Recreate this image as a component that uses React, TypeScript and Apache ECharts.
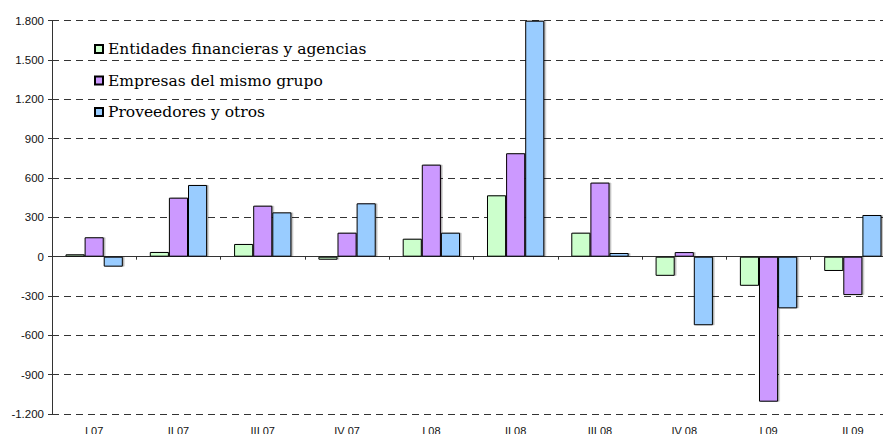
import React, { useEffect, useRef } from "react";
import * as echarts from "echarts";

const categories = ["I 07", "II 07", "III 07", "IV 07", "I 08", "II 08", "III 08", "IV 08", "I 09", "II 09"];
const entidades = [18, 36, 97, -23, 137, 468, 183, -146, -222, -109];
const empresas = [148, 450, 389, 183, 702, 789, 565, 35, -1106, -293];
const proveedores = [-76, 547, 338, 407, 183, 1800, 28, -523, -394, 318];
const seriesNames = ["Entidades financieras y agencias", "Empresas del mismo grupo", "Proveedores y otros"];
const colors = ["#CCFFCC", "#CC99FF", "#99CCFF"];

function fmt(v: number): string {
  const s = Math.abs(v).toString().replace(/\B(?=(\d{3})+(?!\d))/g, ".");
  return (v < 0 ? "-" : "") + s;
}

export default function App() {
  const ref = useRef<HTMLDivElement>(null);
  useEffect(() => {
    if (!ref.current) return;
    const chart = echarts.init(ref.current, undefined, { renderer: "svg" });
    const data = [entidades, empresas, proveedores];
    chart.setOption({
      animation: false,
      backgroundColor: "#ffffff",
      grid: { left: 52, top: 20.7, width: 843, height: 393.3, containLabel: false },
      legend: {
        orient: "vertical",
        left: 89,
        top: 36,
        itemWidth: 8,
        itemHeight: 8,
        itemGap: 15.5,
        icon: "rect",
        textStyle: { fontFamily: "DejaVu Serif", fontSize: 15.5, color: "#000" },
        data: seriesNames,
      },
      xAxis: [
        {
          type: "category",
          data: categories,
          axisLine: { show: true, onZero: true, lineStyle: { color: "#333", width: 1 } },
          axisTick: { show: true, length: 3, inside: false, lineStyle: { color: "#333" } },
          axisLabel: { show: false },
          splitLine: { show: false },
        },
        {
          type: "category",
          data: categories,
          position: "bottom",
          axisLine: { show: false, onZero: false },
          axisTick: { show: false },
          axisLabel: { show: true, margin: 11, fontFamily: "Liberation Sans", fontSize: 11, color: "#111" },
          splitLine: { show: false },
        },
      ],
      yAxis: {
        type: "value",
        min: -1200,
        max: 1800,
        interval: 300,
        axisLine: { show: true, lineStyle: { color: "#333", width: 1 } },
        axisTick: { show: true, length: 4, lineStyle: { color: "#333" } },
        axisLabel: {
          margin: 8,
          fontFamily: "Liberation Sans",
          fontSize: 11.5,
          color: "#111",
          formatter: (v: number) => fmt(v),
        },
        splitLine: { show: true, lineStyle: { color: "#333", type: [7, 5], width: 1 } },
      },
      series: seriesNames.map((name, i) => ({
        name,
        type: "bar",
        xAxisIndex: 0,
        data: data[i],
        barGap: "0%",
        barCategoryGap: "32%",
        itemStyle: {
          color: colors[i],
          borderColor: "#000",
          borderWidth: 1,
          shadowColor: "rgba(0,0,0,0.3)",
          shadowOffsetX: 1.5,
          shadowOffsetY: 0,
          shadowBlur: 0,
        },
      })),
    });
    return () => chart.dispose();
  }, []);
  return (
    <div style={{ position: "fixed", left: 0, top: 0, width: 883, height: 434, overflow: "hidden", background: "#fff" }}>
      <div ref={ref} style={{ width: 900, height: 450 }} />
    </div>
  );
}
